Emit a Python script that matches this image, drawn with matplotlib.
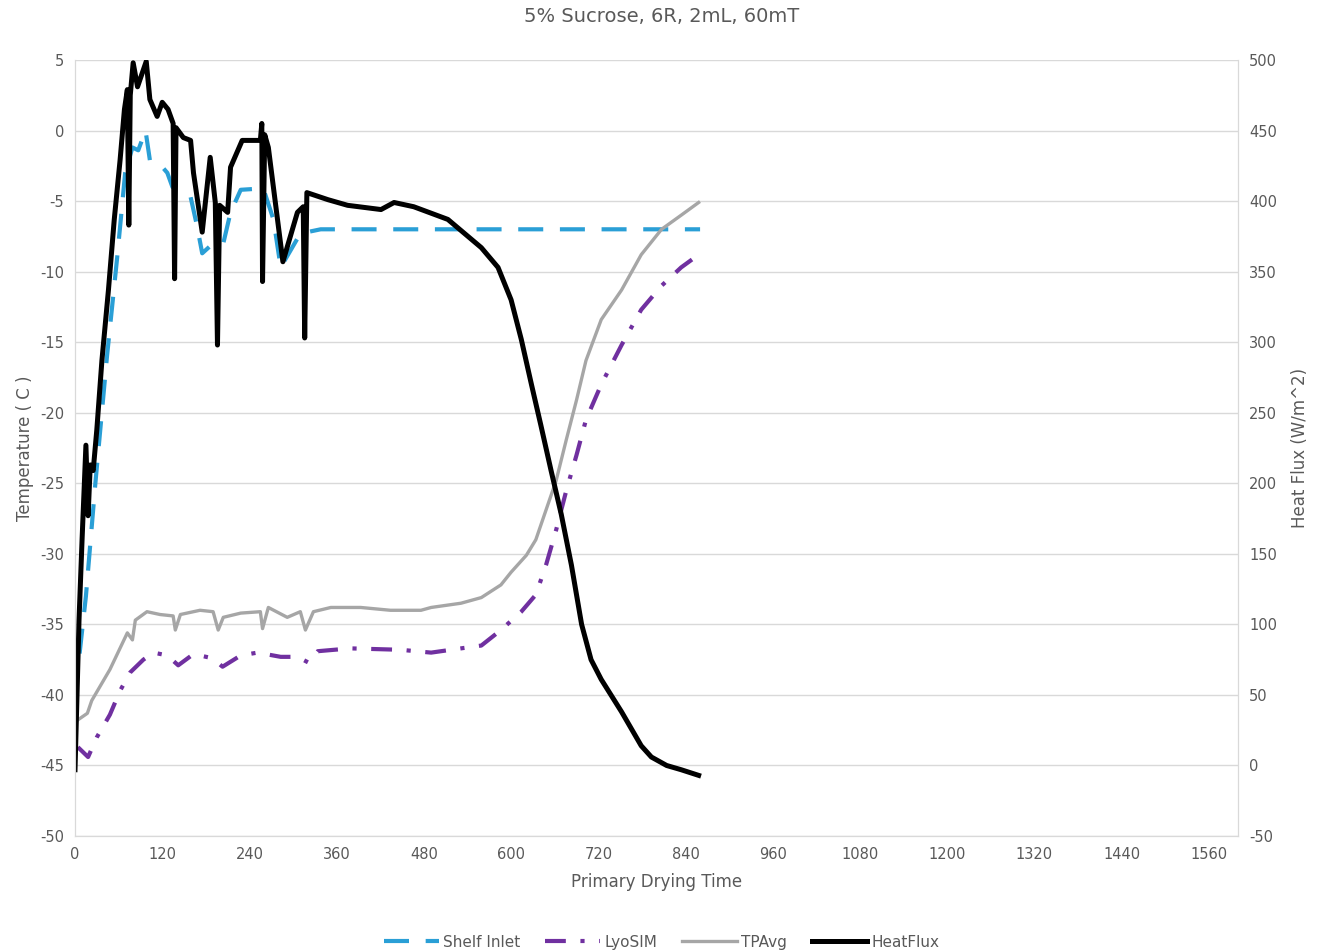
import matplotlib.pyplot as plt

plt.rcParams['axes.unicode_minus'] = False

# Shelf Inlet (C)
shelf_t = [0, 15, 28, 44, 58, 69, 79, 87, 97, 99, 103, 117, 127, 134, 159, 168, 175, 190, 204, 214,
           228, 259, 273, 283, 310, 338, 860]
shelf_v = [-40, -33, -25, -16, -9, -3, -1.2, -1.4, 0, -0.7, -2.1, -2.4, -3, -4, -4.7, -6.8, -8.7, -8, -8, -5.8,
           -4.2, -4.1, -6.3, -9.7, -7.3, -7, -7]

# LyoSIM (C)
lyo_t = [4, 18, 30, 48, 62, 76, 94, 108, 127, 142, 163, 189, 203, 228, 251, 283, 306, 321, 334, 379,
         448, 490, 531, 559, 586, 614, 634, 648, 662, 676, 690, 703, 724, 752, 779, 807, 834, 858]
lyo_v = [-43.7, -44.4, -43, -41.4, -39.7, -38.4, -37.5, -37, -37.2, -37.9, -37.1, -37.4, -38, -37.2, -37,
         -37.3, -37.3, -37.7, -36.9, -36.7, -36.8, -37, -36.7, -36.5, -35.4, -34.1, -32.9, -30.8, -28.3,
         -25.5, -23, -20.5, -18, -15.2, -12.7, -11, -9.7, -8.8]

# TPAvg (C)
tp_t = [3, 17, 23, 48, 72, 79, 83, 99, 117, 135, 138, 145, 172, 190, 197, 204, 228, 255, 258, 266,
        292, 310, 317, 328, 352, 393, 434, 476, 490, 531, 559, 586, 600, 621, 634, 648, 662, 676, 690,
        703, 724, 752, 779, 807, 834, 858]
tp_v = [-41.8, -41.3, -40.4, -38.2, -35.6, -36.1, -34.7, -34.1, -34.3, -34.4, -35.4, -34.3, -34, -34.1,
        -35.4, -34.5, -34.2, -34.1, -35.3, -33.8, -34.5, -34.1, -35.4, -34.1, -33.8, -33.8, -34, -34,
        -33.8, -33.5, -33.1, -32.2, -31.3, -30.1, -29, -26.9, -24.8, -21.9, -19.1, -16.3, -13.4, -11.3,
        -8.8, -7, -6, -5.1]

# HeatFlux (W/m^2)
hf_t = [0, 5.5, 9.7, 15, 18, 21, 25, 30, 37, 46, 54, 62, 68, 72, 74, 76, 80, 86, 98, 103, 113, 120, 128,
        135, 137, 139, 149, 159, 163, 175, 186, 193, 196, 199, 210, 214, 230, 255, 257, 258, 261, 266,
        286, 306, 314, 316, 319, 348, 375, 421, 439, 466, 513, 559, 582, 600, 614, 628, 641, 655, 669,
        683, 697, 710, 724, 752, 779, 793, 814, 834, 858]
hf_v = [-3, 103, 160, 227, 177, 213, 209, 238, 287, 337, 387, 429, 465, 479, 383, 475, 498, 481, 499,
        472, 460, 470, 465, 455, 345, 452, 445, 443, 420, 378, 431, 399, 298, 397, 392, 424, 443, 443,
        455, 343, 447, 438, 357, 392, 396, 303, 406, 401, 397, 394, 399, 396, 387, 367, 353, 330, 302,
        270, 241, 209, 178, 142, 100, 75, 61, 38, 14, 6, 0, -3, -7]

txt = '#595959'
grid = '#d9d9d9'

fig = plt.figure(figsize=(13.23, 9.52), dpi=100)
ax = fig.add_axes([0.0567, 0.1218, 0.879, 0.8152])
ax2 = ax.twinx()

l1, = ax.plot(shelf_t, shelf_v, color='#2a9fd6', lw=3, dashes=(6, 4), label='Shelf Inlet')
l2, = ax.plot(lyo_t, lyo_v, color='#7030a0', lw=3, dashes=(5, 3.5, 1, 3.5), label='LyoSIM')
l3, = ax.plot(tp_t, tp_v, color='#a6a6a6', lw=2.4, solid_joinstyle='round', label='TPAvg')
l4, = ax2.plot(hf_t, hf_v, color='black', lw=3.6, solid_joinstyle='round', label='HeatFlux')

ax.set_xlim(0, 1600)
ax.set_xticks(range(0, 1600, 120))
ax.set_ylim(-50, 5)
ax.set_yticks(range(-50, 6, 5))
ax2.set_ylim(-50, 500)
ax2.set_yticks(range(-50, 501, 50))

ax.grid(axis='y', color=grid, lw=1)
ax.set_axisbelow(True)
for a in (ax, ax2):
    a.tick_params(length=0, labelsize=10.5, labelcolor=txt, pad=8)
    for s in a.spines.values():
        s.set_color(grid)
    a.spines['top'].set_visible(False)

ax.set_xlabel('Primary Drying Time', color=txt, fontsize=12, labelpad=8)
ax.set_ylabel('Temperature ( C )', color=txt, fontsize=12, labelpad=4)
ax2.set_ylabel('Heat Flux (W/m^2)', color=txt, fontsize=12, labelpad=10)
fig.suptitle('5% Sucrose, 6R, 2mL, 60mT', color=txt, fontsize=14, y=0.993)

fig.legend(handles=[l1, l2, l3, l4], loc='lower center', ncol=4, frameon=False,
           bbox_to_anchor=(0.5, -0.012), fontsize=11, labelcolor=txt, handlelength=3.6,
           columnspacing=1.6, handletextpad=0.3)

plt.savefig('out.png', dpi=100)
